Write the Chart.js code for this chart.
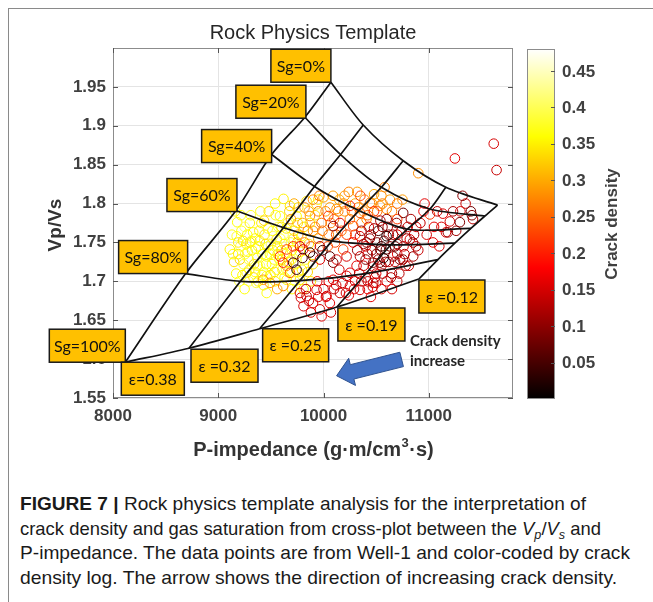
<!DOCTYPE html>
<html><head><meta charset="utf-8">
<script src="https://cdn.jsdelivr.net/npm/chart.js@4.4.1/dist/chart.umd.min.js"></script>
<style>
html,body{margin:0;padding:0;background:#fff;}
body{width:653px;height:602px;position:relative;overflow:hidden;}
#frame{position:absolute;left:8px;top:8px;width:700px;height:700px;border-left:1.5px solid #8a8a8a;border-top:1.5px solid #8a8a8a;}
#wrap{position:absolute;left:0;top:0;width:653px;height:470px;}
#cap{position:absolute;left:0;top:470px;}
</style></head><body>
<div id="frame"></div>
<div id="wrap"><canvas id="c" width="653" height="470"></canvas></div>
<svg id="cap" width="653" height="132" xmlns="http://www.w3.org/2000/svg" font-family="'Liberation Sans', Arial, sans-serif" font-size="19" fill="#1a1a1a">
<text x="20" y="40" textLength="566" lengthAdjust="spacingAndGlyphs"><tspan font-weight="bold">FIGURE 7 |</tspan> Rock physics template analysis for the interpretation of</text>
<text x="20" y="64.5" textLength="581" lengthAdjust="spacingAndGlyphs">crack density and gas saturation from cross-plot between the <tspan font-style="italic">V</tspan><tspan font-style="italic" font-size="13" dy="4">p</tspan><tspan dy="-4">/</tspan><tspan font-style="italic">V</tspan><tspan font-style="italic" font-size="13" dy="4">s</tspan><tspan dy="-4"> and</tspan></text>
<text x="20" y="89" textLength="610" lengthAdjust="spacingAndGlyphs">P-impedance. The data points are from Well-1 and color-coded by crack</text>
<text x="20" y="114" textLength="597" lengthAdjust="spacingAndGlyphs">density log. The arrow shows the direction of increasing crack density.</text>
</svg>
<script>
// ---------- data ----------
const chartTitle = 'Rock Physics Template';
const xAxisTitle = ['P-impedance (g\u00b7m/cm', '3', '\u00b7s)'];
const yAxisTitle = 'Vp/Vs';
const colorbarTitle = 'Crack density';
const xRange = [8000, 11800];
const yRange = [1.55, 2.0];
const xTickValues = [8000, 9000, 10000, 11000];
const xTickLabels = ['8000', '9000', '10000', '11000'];
const yTickValues = [1.55, 1.6, 1.65, 1.7, 1.75, 1.8, 1.85, 1.9, 1.95];
const yTickLabels = ['1.55', '1.6', '1.65', '1.7', '1.75', '1.8', '1.85', '1.9', '1.95'];
const colorLimits = [0, 0.48];
const cTickValues = [0.05, 0.1, 0.15, 0.2, 0.25, 0.3, 0.35, 0.4, 0.45];
const cTickLabels = ['0.05', '0.1', '0.15', '0.2', '0.25', '0.3', '0.35', '0.4', '0.45'];

// template grid: each Sg curve, vertices from eps=0.38 to eps=0.12
const sgLabels = ['Sg=0%', 'Sg=20%', 'Sg=40%', 'Sg=60%', 'Sg=80%', 'Sg=100%'];
const epsLabels = ['\u03b5=0.38', '\u03b5 =0.32', '\u03b5 =0.25', '\u03b5 =0.19', '\u03b5 =0.12'];
const sg0   = [[10070, 1.956], [10377, 1.901], [10757, 1.855], [11162, 1.821], [11653, 1.798]];
const sg20  = [[9823, 1.911], [10162, 1.863], [10550, 1.821], [11011, 1.793], [11533, 1.784]];
const sg40  = [[9507, 1.863], [9914, 1.822], [10336, 1.791], [10797, 1.767], [11400, 1.768]];
const sg60  = [[9168, 1.791], [9619, 1.769], [10080, 1.752], [10640, 1.747], [11248, 1.749]];
const sg80  = [[8690, 1.710], [9211, 1.700], [9776, 1.701], [10403, 1.710], [11087, 1.728]];
const sg100 = [[8117, 1.596], [8722, 1.614], [9393, 1.639], [10127, 1.667], [10906, 1.703]];
const arrowTail = [10742, 1.5996];
const arrowTip = [10124, 1.5786];
const arrowText = ['Crack density', 'increase'];
const arrowTextAnchor = [10821, 1.6228];

// well-1 points: [P-impedance, Vp/Vs, crack density]
const wellPoints = [
 // yellow
 [9110,1.741,.35],[9130,1.760,.37],[9150,1.725,.34],[9175,1.758,.38],[9180,1.776,.36],[9206,1.728,.33],[9210,1.745,.39],[9230,1.708,.36],
 [9250,1.770,.41],[9270,1.711,.35],[9280,1.738,.37],[9301,1.750,.34],[9310,1.785,.38],[9332,1.763,.36],[9340,1.722,.33],[9360,1.698,.39],
 [9380,1.745,.36],[9396,1.720,.41],[9410,1.775,.35],[9420,1.735,.37],[9440,1.760,.34],[9460,1.707,.38],[9460,1.732,.36],[9480,1.790,.33],
 [9500,1.748,.39],[9510,1.722,.36],[9522,1.758,.41],[9540,1.700,.35],[9555,1.715,.37],[9555,1.754,.34],[9570,1.770,.38],[9586,1.784,.36],
 [9600,1.740,.33],[9620,1.760,.39],[9630,1.705,.36],[9650,1.702,.35],[9660,1.775,.37],[9681,1.797,.34],[9690,1.750,.38],[9700,1.690,.36],
 [9720,1.765,.33],[9744,1.784,.36],[9760,1.712,.35],[9776,1.702,.34],[9790,1.758,.36],[9810,1.690,.35],[9839,1.803,.34],[9850,1.712,.33],
 [9880,1.700,.34],[9934,1.799,.33],[9460,1.685,.37],[9380,1.700,.35],[9250,1.690,.36],[9200,1.700,.38],[9300,1.775,.35],[9160,1.790,.37],
 [9540,1.800,.36],[9620,1.806,.35],[9760,1.795,.34],[9400,1.790,.37],
 [9140,1.735,.36],[9190,1.750,.35],[9220,1.765,.37],[9240,1.722,.39],[9265,1.748,.36],[9290,1.728,.38],[9320,1.740,.35],[9350,1.755,.36],
 [9370,1.730,.38],[9390,1.765,.35],[9430,1.712,.37],[9450,1.748,.34],[9470,1.768,.38],[9490,1.735,.36],[9520,1.740,.35],[9530,1.728,.37],
 [9560,1.745,.35],[9580,1.728,.38],[9610,1.715,.36],[9640,1.735,.37],[9670,1.725,.34],[9700,1.740,.36],[9730,1.700,.37],[9750,1.750,.35],
 [9350,1.712,.36],[9290,1.700,.39],[9430,1.695,.35],[9600,1.770,.34],
 [9170,1.710,.36],[9190,1.735,.35],[9215,1.785,.37],[9235,1.752,.34],[9255,1.735,.38],[9275,1.760,.36],[9295,1.715,.35],[9315,1.752,.37],
 [9335,1.705,.34],[9355,1.742,.36],[9375,1.720,.38],[9395,1.752,.35],[9415,1.708,.37],[9435,1.778,.33],[9455,1.722,.36],[9475,1.745,.38],
 [9495,1.708,.35],[9515,1.765,.36],[9535,1.712,.34],[9545,1.785,.37],[9565,1.735,.35],[9590,1.755,.38],[9605,1.728,.34],[9625,1.748,.36],
 [9645,1.768,.35],[9660,1.712,.37],[9675,1.790,.33],[9695,1.728,.36],[9715,1.755,.35],[9735,1.722,.37],[9755,1.775,.34],[9775,1.738,.36],
 [9795,1.715,.35],[9815,1.770,.33],[9830,1.728,.36],[9860,1.748,.34],[9870,1.775,.35],[9900,1.722,.33],[9920,1.785,.34],[9950,1.805,.35],
 // orange
 [9427,1.702,.29],[9491,1.698,.28],[9617,1.694,.27],[9690,1.780,.29],[9720,1.800,.30],[9871,1.784,.28],[9800,1.775,.30],[9900,1.765,.29],
 [9950,1.790,.27],[10000,1.808,.29],[10124,1.793,.28],[10441,1.801,.27],[10536,1.797,.29],[10599,1.793,.28],[10631,1.805,.29],[10409,1.780,.28],
 [10580,1.821,.27],[10900,1.839,.28],[10200,1.810,.29],[10300,1.800,.30],[10380,1.790,.28],[10050,1.760,.27],[9980,1.775,.26],[10480,1.812,.30],
 [10650,1.790,.27],[9650,1.720,.29],[9740,1.735,.26],[9560,1.690,.30],[10700,1.800,.26],[10150,1.805,.30],
 [9760,1.760,.29],[9820,1.750,.27],[9860,1.790,.30],[9900,1.805,.28],[10060,1.795,.29],[10100,1.780,.26],[9950,1.755,.29],[10200,1.790,.28],
 [10250,1.780,.27],[10320,1.815,.29],[10550,1.810,.28],[10750,1.805,.29],
 [9820,1.795,.28],[9850,1.765,.27],[9880,1.745,.25],[9920,1.770,.28],[9960,1.810,.27],[9990,1.765,.26],[10020,1.790,.28],[10040,1.745,.24],
 [10070,1.775,.27],[10090,1.810,.29],[10110,1.750,.23],[10140,1.790,.27],[10170,1.765,.26],[10190,1.800,.28],[10220,1.760,.22],[10240,1.815,.27],
 [10270,1.790,.26],[10300,1.760,.23],[10330,1.795,.28],[10360,1.775,.26],[10390,1.805,.27],[10420,1.785,.25],[10460,1.800,.28],[10510,1.790,.26],
 [10560,1.800,.27],
 // red-orange
 [9586,1.732,.21],[9650,1.741,.23],[9712,1.745,.22],[9681,1.711,.24],[9617,1.724,.21],[10187,1.741,.23],[10251,1.797,.21],[10346,1.788,.24],
 [10045,1.784,.22],[10282,1.771,.23],[10120,1.760,.24],[10480,1.790,.21],[11011,1.786,.22],[10700,1.780,.22],[10350,1.810,.23],
 // red
 [9807,1.741,.15],[9776,1.745,.16],[9776,1.685,.15],[9839,1.681,.14],[9934,1.689,.16],[9966,1.664,.15],[9982,1.655,.16],[10029,1.681,.15],
 [10156,1.685,.14],[10251,1.694,.16],[10346,1.689,.15],[10472,1.698,.14],[10092,1.702,.16],[10219,1.707,.15],[10156,1.775,.16],[10346,1.758,.15],
 [10346,1.732,.14],[10472,1.719,.15],[10251,1.711,.16],[10124,1.728,.15],[9966,1.728,.16],[9966,1.745,.14],[10219,1.732,.15],[10314,1.720,.16],
 [9785,1.679,.15],[9833,1.690,.14],[10023,1.680,.16],[10213,1.685,.15],[10469,1.693,.14],[10820,1.754,.15],[11040,1.750,.16],[11163,1.763,.15],
 [11134,1.787,.16],[11200,1.777,.15],[11248,1.858,.16],[11617,1.877,.15],[11644,1.843,.14],[10950,1.790,.17],[10880,1.770,.15],[10600,1.700,.16],
 [10550,1.690,.15],[10400,1.705,.16],[10900,1.740,.14],[10050,1.700,.17],[10150,1.715,.15],[10400,1.745,.16],[10280,1.750,.17],[10430,1.770,.15],
 [10700,1.760,.16],[10780,1.720,.14],[9880,1.660,.15],[10100,1.690,.14],[11300,1.790,.15],[11050,1.770,.16],
 [10380,1.720,.14],[10420,1.735,.15],[10500,1.710,.16],[10550,1.720,.14],[10620,1.725,.15],[10700,1.735,.16],[10760,1.745,.15],[10800,1.770,.14],
 [10650,1.690,.15],[10450,1.680,.16],[10300,1.700,.15],[10700,1.700,.14],
 [9810,1.668,.15],[9860,1.675,.14],[9900,1.672,.16],[9950,1.680,.15],[10000,1.690,.14],[10060,1.672,.16],[10120,1.695,.15],[10180,1.698,.14],
 [10240,1.682,.16],[10290,1.690,.15],[10360,1.700,.14],[10420,1.690,.16],[10500,1.698,.15],[9940,1.700,.16],[10070,1.660,.15],
 [10920,1.775,.14],[10980,1.760,.15],[11080,1.790,.13],[11120,1.770,.15],[11230,1.790,.12],[11350,1.800,.14],[11100,1.745,.15],[10960,1.800,.16],
 [11260,1.765,.11],[11420,1.780,.13],
 // dark red
 [9902,1.732,.08],[10092,1.724,.09],[10409,1.750,.10],[10536,1.741,.08],[10472,1.724,.10],[10662,1.732,.09],[10694,1.775,.10],[10757,1.788,.08],
 [10852,1.732,.11],[10726,1.728,.10],[10535,1.724,.09],[10593,1.741,.08],[10754,1.728,.10],[10849,1.750,.11],[11321,1.810,.10],[11400,1.790,.08],
 [11410,1.785,.09],[11295,1.776,.09],[11181,1.763,.11],[10061,1.732,.07],[10092,1.771,.09],[10560,1.770,.10],[10620,1.760,.09],[10500,1.735,.10],
 [10650,1.710,.11],[10600,1.780,.10],[10450,1.760,.11],[10680,1.745,.08],
 [10320,1.740,.11],[10340,1.710,.13],[10360,1.765,.10],[10380,1.748,.12],[10400,1.728,.09],[10420,1.700,.13],[10440,1.755,.11],[10460,1.740,.10],
 [10480,1.768,.12],[10490,1.705,.13],[10510,1.750,.09],[10520,1.728,.11],[10540,1.778,.12],[10560,1.710,.12],[10575,1.752,.08],[10590,1.725,.10],
 [10610,1.770,.12],[10630,1.745,.09],[10640,1.705,.13],[10660,1.760,.11],[10680,1.725,.12],[10700,1.748,.10],[10720,1.710,.13],[10740,1.765,.12],
 [10770,1.735,.13],[10790,1.755,.11],[10810,1.720,.13],[10830,1.780,.12],[10860,1.760,.12],[10880,1.745,.13],
 // very dark
 [9871,1.737,.03],[9712,1.724,.04],[9744,1.715,.03],[10599,1.758,.02],[10550,1.745,.04],[9800,1.730,.05],[10570,1.730,.03],[10520,1.765,.05],[9990,1.740,.04]
];

// ---------- layout / style (not data) ----------
const sgBoxW = [60, 70, 70, 70, 69, 76];
const sgBoxShift = [[0,0],[1,1],[0,8],[1,1],[2,0],[0,0]];
const epsBoxW = [63, 67, 66, 67, 66];
const epsBoxShift = [[-4,0],[2,1],[3,0],[1,1],[0,1]];
const BOX_H = 33;
const TICK_FONT = {family: '"Liberation Sans", Arial, Helvetica, sans-serif', size: 17, weight: 'bold'};
const SANS = '"Liberation Sans", Arial, Helvetica, sans-serif';
const BOXFONT = 'Lato, Carlito, "Open Sans", "Noto Sans", sans-serif';

function hotColor(c) {
  const t = Math.min(1, Math.max(0, (c - colorLimits[0]) / (colorLimits[1] - colorLimits[0])));
  const r = Math.min(1, t / 0.375);
  const g = Math.min(1, Math.max(0, (t - 0.375) / 0.375));
  const b = Math.min(1, Math.max(0, (t - 0.75) / 0.25));
  return `rgb(${Math.round(r*255)},${Math.round(g*255)},${Math.round(b*255)})`;
}

const sgCurves = [sg0, sg20, sg40, sg60, sg80, sg100];
const datasets = [];
const lineStyle = {showLine: true, borderColor: '#111', borderWidth: 1.7, pointRadius: 0, tension: 0.3, fill: false};
sgCurves.forEach(curve => datasets.push(Object.assign({data: curve.map(p => ({x: p[0], y: p[1]}))}, lineStyle)));
for (let j = 0; j < epsLabels.length; j++) {
  datasets.push(Object.assign({data: sgCurves.slice().reverse().map(cv => ({x: cv[j][0], y: cv[j][1]}))}, lineStyle));
}
datasets.push({
  data: wellPoints.map(p => ({x: p[0], y: p[1]})),
  showLine: false,
  pointRadius: 4.8,
  pointBorderWidth: 1,
  pointBackgroundColor: 'rgba(0,0,0,0)',
  pointBorderColor: wellPoints.map(p => hotColor(p[2]))
});

function drawBox(ctx, bx, by, w, h, txt) {
  ctx.fillStyle = '#FFC000';
  ctx.fillRect(bx, by, w, h);
  ctx.strokeStyle = '#1a1a1a';
  ctx.lineWidth = 1.5;
  ctx.strokeRect(bx, by, w, h);
  ctx.fillStyle = '#111';
  ctx.font = '16px ' + BOXFONT;
  ctx.textAlign = 'center';
  ctx.textBaseline = 'middle';
  ctx.fillText(txt, bx + w / 2, by + h / 2 + 1);
}

const decor = {
  id: 'decor',
  afterDraw(chart) {
    const {ctx, chartArea: a, scales: {x, y}} = chart;
    ctx.save();
    // axes box
    ctx.strokeStyle = '#8c8c8c';
    ctx.lineWidth = 1;
    ctx.strokeRect(a.left + 0.5, a.top + 0.5, a.right - a.left - 1, a.bottom - a.top - 1);
    ctx.strokeStyle = '#555';
    ctx.beginPath();
    xTickValues.forEach(v => {
      const px = Math.round(x.getPixelForValue(v)) + 0.5;
      ctx.moveTo(px, a.top); ctx.lineTo(px, a.top + 5);
      ctx.moveTo(px, a.bottom); ctx.lineTo(px, a.bottom - 5);
    });
    yTickValues.forEach(v => {
      const py = Math.round(y.getPixelForValue(v)) + 0.5;
      ctx.moveTo(a.left, py); ctx.lineTo(a.left + 5, py);
      ctx.moveTo(a.right, py); ctx.lineTo(a.right - 5, py);
    });
    ctx.stroke();

    // title
    ctx.fillStyle = '#262626';
    ctx.font = '20px ' + SANS;
    ctx.textAlign = 'center';
    ctx.textBaseline = 'alphabetic';
    ctx.fillText(chartTitle, (a.left + a.right) / 2, 39);

    // y title
    ctx.save();
    ctx.translate(61, (a.top + a.bottom) / 2 + 2);
    ctx.rotate(-Math.PI / 2);
    ctx.font = 'bold 19px ' + SANS;
    ctx.fillStyle = '#333';
    ctx.fillText(yAxisTitle, 0, 0);
    ctx.restore();

    // x title with superscript
    ctx.fillStyle = '#333';
    ctx.textAlign = 'left';
    const fMain = 'bold 20px ' + SANS, fSup = 'bold 13px ' + SANS;
    ctx.font = fMain; const w1 = ctx.measureText(xAxisTitle[0]).width, w3 = ctx.measureText(xAxisTitle[2]).width;
    ctx.font = fSup; const w2 = ctx.measureText(xAxisTitle[1]).width;
    let sx = (a.left + a.right) / 2 - (w1 + w2 + w3) / 2;
    const base = 456;
    ctx.font = fMain; ctx.fillText(xAxisTitle[0], sx, base);
    ctx.font = fSup; ctx.fillText(xAxisTitle[1], sx + w1 + 0.5, base - 9);
    ctx.font = fMain; ctx.fillText(xAxisTitle[2], sx + w1 + w2 + 1, base);

    // colorbar
    const cbL = a.right + 14, cbR = cbL + 28, cbT = a.top + 1, cbB = a.bottom + 1;
    const grad = ctx.createLinearGradient(0, cbB, 0, cbT);
    grad.addColorStop(0, 'rgb(0,0,0)');
    grad.addColorStop(0.375, 'rgb(255,0,0)');
    grad.addColorStop(0.75, 'rgb(255,255,0)');
    grad.addColorStop(1, 'rgb(255,255,255)');
    ctx.fillStyle = grad;
    ctx.fillRect(cbL, cbT, cbR - cbL, cbB - cbT);
    ctx.strokeStyle = '#8c8c8c';
    ctx.lineWidth = 1;
    ctx.strokeRect(cbL + 0.5, cbT + 0.5, cbR - cbL - 1, cbB - cbT - 1);
    const cPix = v => cbB - (v - colorLimits[0]) / (colorLimits[1] - colorLimits[0]) * (cbB - cbT);
    ctx.strokeStyle = '#555';
    ctx.beginPath();
    cTickValues.forEach(v => { const py = Math.round(cPix(v)) + 0.5; ctx.moveTo(cbR, py); ctx.lineTo(cbR - 4, py); });
    ctx.stroke();
    ctx.fillStyle = '#404040';
    ctx.font = 'bold 17px ' + SANS;
    ctx.textAlign = 'left';
    ctx.textBaseline = 'middle';
    cTickValues.forEach((v, i) => ctx.fillText(cTickLabels[i], cbR + 7, cPix(v) + 1));
    ctx.save();
    ctx.translate(617, (cbT + cbB) / 2);
    ctx.rotate(-Math.PI / 2);
    ctx.font = 'bold 17px ' + SANS;
    ctx.fillStyle = '#404040';
    ctx.textAlign = 'center';
    ctx.textBaseline = 'alphabetic';
    ctx.fillText(colorbarTitle, 0, 0);
    ctx.restore();

    // label boxes
    sgLabels.forEach((txt, i) => {
      const v = sgCurves[i][0];
      const px = x.getPixelForValue(v[0]) + sgBoxShift[i][0];
      const py = y.getPixelForValue(v[1]) + sgBoxShift[i][1];
      drawBox(ctx, px - sgBoxW[i], py - BOX_H, sgBoxW[i], BOX_H, txt);
    });
    epsLabels.forEach((txt, j) => {
      const v = sg100[j];
      const px = x.getPixelForValue(v[0]) + epsBoxShift[j][0];
      const py = y.getPixelForValue(v[1]) + epsBoxShift[j][1];
      drawBox(ctx, px, py, epsBoxW[j], BOX_H, txt);
    });

    // arrow
    const tx = x.getPixelForValue(arrowTail[0]), ty = y.getPixelForValue(arrowTail[1]);
    const hx = x.getPixelForValue(arrowTip[0]), hy = y.getPixelForValue(arrowTip[1]);
    const L = Math.hypot(hx - tx, hy - ty), ux = (hx - tx) / L, uy = (hy - ty) / L, nx = -uy, ny = ux;
    const headLen = 16, headHalf = 14, shaftHalf = 7.4;
    const bx = hx - ux * headLen, by = hy - uy * headLen;
    ctx.beginPath();
    ctx.moveTo(tx + nx * shaftHalf, ty + ny * shaftHalf);
    ctx.lineTo(bx + nx * shaftHalf, by + ny * shaftHalf);
    ctx.lineTo(bx + nx * headHalf, by + ny * headHalf);
    ctx.lineTo(hx, hy);
    ctx.lineTo(bx - nx * headHalf, by - ny * headHalf);
    ctx.lineTo(bx - nx * shaftHalf, by - ny * shaftHalf);
    ctx.lineTo(tx - nx * shaftHalf, ty - ny * shaftHalf);
    ctx.closePath();
    ctx.fillStyle = '#4472C4';
    ctx.fill();
    ctx.strokeStyle = '#2F528F';
    ctx.lineWidth = 1;
    ctx.stroke();

    ctx.fillStyle = '#262626';
    ctx.font = 'bold 15px ' + BOXFONT;
    ctx.textAlign = 'left';
    ctx.textBaseline = 'middle';
    const ax = x.getPixelForValue(arrowTextAnchor[0]), ay = y.getPixelForValue(arrowTextAnchor[1]);
    arrowText.forEach((t, i) => ctx.fillText(t, ax, ay + i * 20));
    ctx.restore();
  }
};

new Chart(document.getElementById('c'), {
  type: 'scatter',
  data: {datasets},
  options: {
    responsive: false,
    animation: false,
    events: [],
    layout: {padding: {left: 0, top: 48, right: 140, bottom: 0}},
    plugins: {legend: {display: false}, tooltip: {enabled: false}, title: {display: false}},
    scales: {
      x: {
        type: 'linear', min: xRange[0], max: xRange[1],
        afterFit: s => { s.height = 72; },
        afterBuildTicks: s => { s.ticks = xTickValues.map(v => ({value: v})); },
        ticks: {callback: v => { const i = xTickValues.indexOf(v); return i >= 0 ? xTickLabels[i] : ''; },
                font: TICK_FONT, color: '#404040', padding: 8, autoSkip: false, maxRotation: 0},
        grid: {color: '#e4e4e4', lineWidth: 1, drawTicks: false},
        border: {display: false}
      },
      y: {
        type: 'linear', min: yRange[0], max: yRange[1],
        afterFit: s => { s.width = 113; },
        afterBuildTicks: s => { s.ticks = yTickValues.map(v => ({value: v})); },
        ticks: {callback: v => { const i = yTickValues.indexOf(v); return i >= 0 ? yTickLabels[i] : ''; },
                font: TICK_FONT, color: '#404040', padding: 7, autoSkip: false},
        grid: {color: '#e4e4e4', lineWidth: 1, drawTicks: false},
        border: {display: false}
      }
    }
  },
  plugins: [decor]
});
</script>
</body></html>
